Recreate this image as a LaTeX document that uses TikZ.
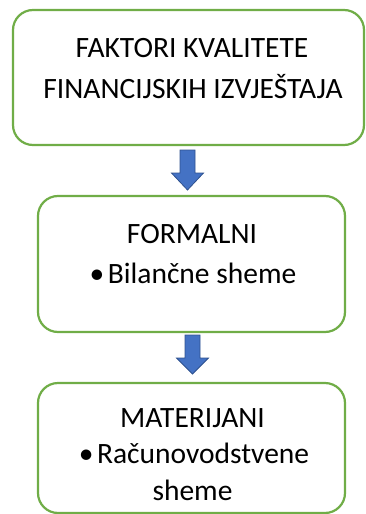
\documentclass[tikz,border=0pt]{standalone}
\usepackage{fontspec}
\setmainfont{Carlito}
\definecolor{boxgreen}{HTML}{70AD47}
\definecolor{arrfill}{HTML}{4472C4}
\definecolor{arrline}{HTML}{2F528F}
\begin{document}
\begin{tikzpicture}[x=1pt,y=-1pt,
  box/.style={draw=boxgreen,line width=2.2pt,rounded corners=20pt,fill=white},
  txt/.style={inner sep=0pt,font=\fontsize{29.5}{34}\selectfont},
  blockarrow/.style={fill=arrfill,draw=arrline,line width=0.8pt,line join=miter}]
\useasboundingbox (0,0) rectangle (365,514);
% boxes
\draw[box] (13,10) rectangle (364,145);
\node[inner sep=0pt] (b1) at (188.5,77.5) {};
\draw[box] (38,196) rectangle (345,332);
\node[inner sep=0pt] (b2) at (191.5,264) {};
\draw[box] (38,383) rectangle (345,513);
\node[inner sep=0pt] (b3) at (191.5,448) {};
% texts
\node[txt] (t1a) at (192,48) {FAKTORI KVALITETE};
\node[txt] (t1b) at (193,87) {FINANCIJSKIH IZVJEŠTAJA};
\node[txt] (t2a) at (192,234) {FORMALNI};
\node[txt] (t2b) at (193,273) {•\hspace{3.5pt}Bilančne sheme};
\node[txt] (t3a) at (192.5,418) {MATERIJANI};
\node[txt] (t3b) at (194,453) {•\hspace{3.5pt}Računovodstvene};
\node[txt] (t3c) at (192.5,490) {sheme};
% arrows
\coordinate (a1) at (187.5,150);
\coordinate (a2) at (192.5,335);
\draw[blockarrow] (a1) ++(-7.5,0) -- ++(0,23) -- ++(-8.5,0) -- ++(16,17) -- ++(16,-17) -- ++(-8.5,0) -- ++(0,-23) -- cycle;
\draw[blockarrow] (a2) ++(-7.5,0) -- ++(0,23) -- ++(-8.5,0) -- ++(16,16) -- ++(16,-16) -- ++(-8.5,0) -- ++(0,-23) -- cycle;
\end{tikzpicture}
\end{document}
